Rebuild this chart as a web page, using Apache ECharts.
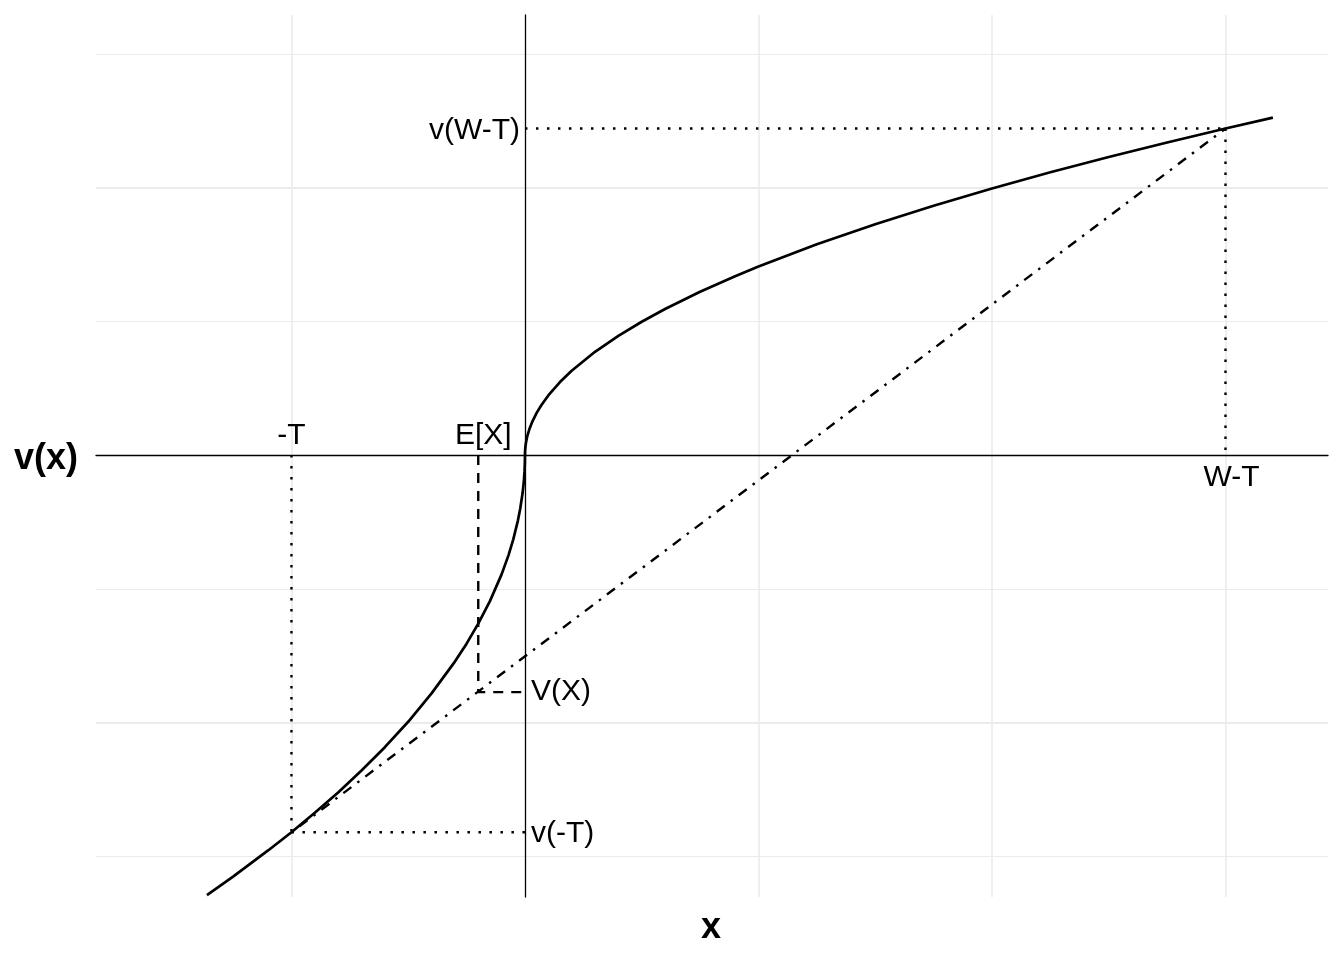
<!DOCTYPE html>
<html>
<head>
<meta charset="utf-8">
<script src="https://cdn.jsdelivr.net/npm/echarts@6/dist/echarts.min.js"></script>
<style>html,body{margin:0;padding:0;background:#fff}#c{width:1344px;height:960px}</style>
</head>
<body>
<div id="c"></div>
<script>
// ---- data (x in grid units, y in major-grid units) ----
const curveX = [-1.362,-1.25,-1.1,-1.0,-0.9,-0.8,-0.7,-0.6,-0.5,-0.4,-0.3,-0.25,-0.2,-0.15,-0.1,-0.07,-0.05,-0.03,-0.02,-0.01,-0.005,-0.002,-0.0005,0,
  0.0005,0.002,0.005,0.01,0.02,0.03,0.05,0.07,0.1,0.15,0.2,0.3,0.4,0.5,0.6,0.75,0.9,1.0,1.25,1.5,1.75,2.0,2.25,2.5,2.75,3.0,3.203];
const curveY = [-1.645,-1.576,-1.478,-1.410,-1.337,-1.261,-1.179,-1.092,-0.997,-0.891,-0.772,-0.705,-0.630,-0.546,-0.446,-0.373,-0.315,-0.244,-0.199,-0.141,-0.100,-0.063,-0.032,0,
  0.0158,0.0315,0.0498,0.0705,0.0997,0.1221,0.1576,0.1864,0.2228,0.2729,0.3152,0.3860,0.4457,0.4983,0.5459,0.6103,0.6685,0.7047,0.7879,0.8631,0.9322,0.9966,1.0571,1.1142,1.1686,1.2206,1.2612];
const negT = -1, wMinusT = 3, expX = -0.2;
const vNegT = -1.410, vWT = 1.2206, vX = -0.886;
const xGridBreaks = [-1, 1, 2, 3];
const yMajorBreaks = [-1, 1];
const yMinorBreaks = [-1.5, -0.5, 0.5, 1.5];
const annoText = ['-T', 'E[X]', 'W-T', 'v(W-T)', 'V(X)', 'v(-T)'];
const annoX = [negT, expX, wMinusT, 0, 0, 0];
const annoY = [0, 0, 0, vWT, vX, vNegT];

// ---- styles ----
const annoStyle = [
  {align:'center', offset:[0,-19]},
  {align:'center', offset:[5,-19]},
  {align:'center', offset:[6,23]},
  {align:'right',  offset:[-5,2]},
  {align:'left',   offset:[6,0]},
  {align:'left',   offset:[6,1]}
];
const FONT = '"Liberation Sans", Arial, Helvetica, sans-serif';
const dotted = [2.5, 8.5];
const dashed = [10, 8];
const dashdot = [2.5, 7.5, 10, 7.5];

const chart = echarts.init(document.getElementById('c'), null, {renderer:'canvas'});
const pts = (xs, ys) => xs.map((x,i)=>[x, ys[i]]);
const seg = (data, type) => ({
  type:'line', data, symbol:'none', silent:true, animation:false,
  lineStyle:{color:'#000', width:2.4, type}, z:10
});
chart.setOption({
  animation:false,
  grid:{left:96, right:16, top:15, bottom:63, containLabel:false},
  xAxis:{type:'value', min:-1.837, max:3.439,
    axisLine:{show:true, onZero:true, lineStyle:{color:'#000', width:1.3}},
    axisTick:{show:false}, axisLabel:{show:false}, splitLine:{show:false}},
  yAxis:{type:'value', min:-1.652, max:1.645,
    axisLine:{show:true, onZero:true, lineStyle:{color:'#000', width:1.3}},
    axisTick:{show:false}, axisLabel:{show:false}, splitLine:{show:false}},
  graphic:[
    {type:'text', left:14, top:441, style:{text:'v(x)', font:'bold 36px '+FONT, fill:'#000'}},
    {type:'text', x:711, y:928, style:{text:'x', font:'bold 36px '+FONT, fill:'#000', align:'center', verticalAlign:'middle'}}
  ],
  series:[
    {type:'line', data:[], silent:true, z:0,
      markLine:{silent:true, z:0, symbol:'none', animation:false, label:{show:false},
        data:[
          ...yMinorBreaks.map(v=>({yAxis:v, lineStyle:{color:'#ebebeb', width:1.1, type:'solid'}})),
          ...yMajorBreaks.map(v=>({yAxis:v, lineStyle:{color:'#ebebeb', width:2.2, type:'solid'}})),
          ...xGridBreaks.map(v=>({xAxis:v, lineStyle:{color:'#ebebeb', width:1.6, type:'solid'}}))
        ]}},
    seg([[negT,0],[negT,vNegT]], dotted),
    seg([[negT,vNegT],[0,vNegT]], dotted),
    seg([[0,vWT],[wMinusT,vWT]], dotted),
    seg([[wMinusT,vWT],[wMinusT,0]], dotted),
    seg([[expX,0],[expX,vX],[0,vX]], dashed),
    seg([[negT,vNegT],[wMinusT,vWT]], dashdot),
    {type:'line', data:pts(curveX, curveY), symbol:'none', silent:true, smooth:false,
      lineStyle:{color:'#000', width:2.7}, z:12},
    {type:'scatter', symbolSize:0, silent:true, z:15,
      data:annoText.map((t,i)=>({value:[annoX[i], annoY[i]], name:t,
        label:{show:true, position:[0,0], formatter:t, color:'#000', opacity:1, textBorderWidth:0,
          fontFamily:FONT, fontSize:30, align:annoStyle[i].align, verticalAlign:'middle',
          offset:annoStyle[i].offset}}))}
  ]
});
</script>
</body>
</html>
